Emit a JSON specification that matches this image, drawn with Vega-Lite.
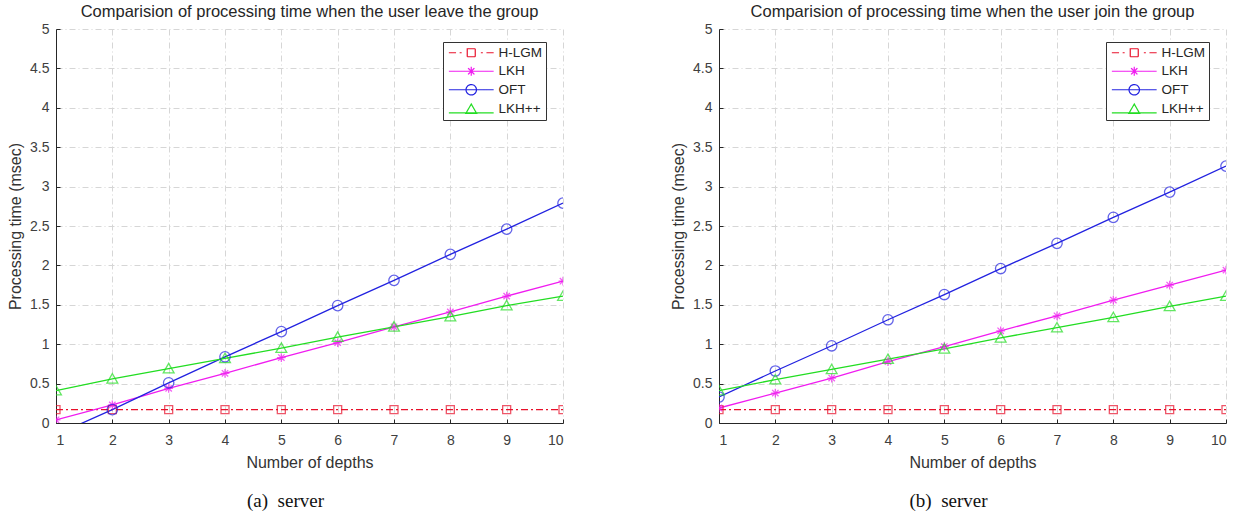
{
  "$schema": "https://vega.github.io/schema/vega-lite/v6.json",
  "padding": {"left": 7, "top": 4, "right": 3, "bottom": 2},
  "background": "white",
  "spacing": 106,
  "config": {
    "font": "Liberation Sans",
    "view": {"stroke": null},
    "title": {"font": "Liberation Sans", "fontSize": 16.5, "fontWeight": "normal", "color": "#262626", "offset": 1.5},
    "axis": {
      "labelFont": "Liberation Sans", "labelFontSize": 14, "labelColor": "#404040",
      "titleFont": "Liberation Sans", "titleFontSize": 16, "titleFontWeight": "normal", "titleColor": "#333333",
      "domainColor": "#262626", "tickColor": "#262626", "tickSize": -4,
      "gridColor": "#d6d6d6", "gridDash": [6, 3, 1, 3], "gridWidth": 1
    },
    "legend": {
      "labelFont": "Liberation Sans", "labelFontSize": 13.5, "labelColor": "#262626",
      "strokeColor": "#333333", "fillColor": "white", "padding": 4, "rowPadding": 3.5,
      "symbolStrokeWidth": 1.2, "symbolSize": 64, "symbolOffset": 17.5, "labelOffset": 20.5
    }
  },
  "datasets": {
    "leave": [
      {"depth": 1, "series": "H-LGM", "value": 0.17}, {"depth": 2, "series": "H-LGM", "value": 0.17}, {"depth": 3, "series": "H-LGM", "value": 0.17}, {"depth": 4, "series": "H-LGM", "value": 0.17}, {"depth": 5, "series": "H-LGM", "value": 0.17}, {"depth": 6, "series": "H-LGM", "value": 0.17}, {"depth": 7, "series": "H-LGM", "value": 0.17}, {"depth": 8, "series": "H-LGM", "value": 0.17}, {"depth": 9, "series": "H-LGM", "value": 0.17}, {"depth": 10, "series": "H-LGM", "value": 0.17},
      {"depth": 1, "series": "LKH", "value": 0.04}, {"depth": 2, "series": "LKH", "value": 0.23}, {"depth": 3, "series": "LKH", "value": 0.44}, {"depth": 4, "series": "LKH", "value": 0.63}, {"depth": 5, "series": "LKH", "value": 0.83}, {"depth": 6, "series": "LKH", "value": 1.02}, {"depth": 7, "series": "LKH", "value": 1.22}, {"depth": 8, "series": "LKH", "value": 1.41}, {"depth": 9, "series": "LKH", "value": 1.61}, {"depth": 10, "series": "LKH", "value": 1.8},
      {"depth": 1, "series": "OFT", "value": -0.15}, {"depth": 2, "series": "OFT", "value": 0.17}, {"depth": 3, "series": "OFT", "value": 0.51}, {"depth": 4, "series": "OFT", "value": 0.84}, {"depth": 5, "series": "OFT", "value": 1.16}, {"depth": 6, "series": "OFT", "value": 1.49}, {"depth": 7, "series": "OFT", "value": 1.81}, {"depth": 8, "series": "OFT", "value": 2.14}, {"depth": 9, "series": "OFT", "value": 2.46}, {"depth": 10, "series": "OFT", "value": 2.79},
      {"depth": 1, "series": "LKH++", "value": 0.41}, {"depth": 2, "series": "LKH++", "value": 0.56}, {"depth": 3, "series": "LKH++", "value": 0.69}, {"depth": 4, "series": "LKH++", "value": 0.82}, {"depth": 5, "series": "LKH++", "value": 0.95}, {"depth": 6, "series": "LKH++", "value": 1.09}, {"depth": 7, "series": "LKH++", "value": 1.22}, {"depth": 8, "series": "LKH++", "value": 1.35}, {"depth": 9, "series": "LKH++", "value": 1.49}, {"depth": 10, "series": "LKH++", "value": 1.61}
    ],
    "join": [
      {"depth": 1, "series": "H-LGM", "value": 0.17}, {"depth": 2, "series": "H-LGM", "value": 0.17}, {"depth": 3, "series": "H-LGM", "value": 0.17}, {"depth": 4, "series": "H-LGM", "value": 0.17}, {"depth": 5, "series": "H-LGM", "value": 0.17}, {"depth": 6, "series": "H-LGM", "value": 0.17}, {"depth": 7, "series": "H-LGM", "value": 0.17}, {"depth": 8, "series": "H-LGM", "value": 0.17}, {"depth": 9, "series": "H-LGM", "value": 0.17}, {"depth": 10, "series": "H-LGM", "value": 0.17},
      {"depth": 1, "series": "LKH", "value": 0.19}, {"depth": 2, "series": "LKH", "value": 0.38}, {"depth": 3, "series": "LKH", "value": 0.57}, {"depth": 4, "series": "LKH", "value": 0.78}, {"depth": 5, "series": "LKH", "value": 0.97}, {"depth": 6, "series": "LKH", "value": 1.17}, {"depth": 7, "series": "LKH", "value": 1.36}, {"depth": 8, "series": "LKH", "value": 1.56}, {"depth": 9, "series": "LKH", "value": 1.75}, {"depth": 10, "series": "LKH", "value": 1.94},
      {"depth": 1, "series": "OFT", "value": 0.33}, {"depth": 2, "series": "OFT", "value": 0.66}, {"depth": 3, "series": "OFT", "value": 0.98}, {"depth": 4, "series": "OFT", "value": 1.31}, {"depth": 5, "series": "OFT", "value": 1.63}, {"depth": 6, "series": "OFT", "value": 1.96}, {"depth": 7, "series": "OFT", "value": 2.28}, {"depth": 8, "series": "OFT", "value": 2.61}, {"depth": 9, "series": "OFT", "value": 2.93}, {"depth": 10, "series": "OFT", "value": 3.26},
      {"depth": 1, "series": "LKH++", "value": 0.41}, {"depth": 2, "series": "LKH++", "value": 0.55}, {"depth": 3, "series": "LKH++", "value": 0.68}, {"depth": 4, "series": "LKH++", "value": 0.81}, {"depth": 5, "series": "LKH++", "value": 0.94}, {"depth": 6, "series": "LKH++", "value": 1.08}, {"depth": 7, "series": "LKH++", "value": 1.21}, {"depth": 8, "series": "LKH++", "value": 1.34}, {"depth": 9, "series": "LKH++", "value": 1.48}, {"depth": 10, "series": "LKH++", "value": 1.61}
    ]
  },
  "hconcat": [
    {
      "title": {"text": "(a)\u00a0 server", "orient": "bottom", "anchor": "middle", "font": "Liberation Serif", "fontSize": 19, "fontWeight": "normal", "color": "#111111", "offset": 22},
      "vconcat": [
        {
          "width": 507, "height": 394,
          "title": "Comparision of processing time when the user leave the group",
          "data": {"name": "leave"},
          "encoding": {
            "x": {"field": "depth", "type": "quantitative", "scale": {"domain": [1, 10], "nice": false}, "axis": {"values": [1, 2, 3, 4, 5, 6, 7, 8, 9, 10], "title": "Number of depths", "labelPadding": 14, "titlePadding": 7}},
            "y": {"field": "value", "type": "quantitative", "scale": {"domain": [0, 5], "nice": false}, "axis": {"values": [0, 0.5, 1, 1.5, 2, 2.5, 3, 3.5, 4, 4.5, 5], "format": "~g", "title": "Processing time (msec)", "labelPadding": 11, "titlePadding": 6}},
            "color": {"field": "series", "type": "nominal", "scale": {"domain": ["H-LGM", "LKH", "OFT", "LKH++"], "range": ["#e8102a", "#f01cf0", "#2222e0", "#22dd22"]},
              "legend": {"title": null, "orient": "none", "legendX": 387, "legendY": 13,
                "encode": {"symbols": {"update": {"fill": {"value": "transparent"}, "strokeDash": {"value": [1, 0]}, "shape": {"signal": "datum.value === 'H-LGM' ? 'M-5.6,0L-3.8,0M-2.9,0L-2.4,0M-1,-1L1,-1L1,1L-1,1ZM2.4,0L2.9,0M3.8,0L5.6,0' : datum.value === 'LKH' ? 'M-5.6,0L5.6,0M-1.1,0L1.1,0M0,-1.1L0,1.1M-0.8,-0.8L0.8,0.8M-0.8,0.8L0.8,-0.8' : datum.value === 'OFT' ? 'M-5.6,0L5.6,0M-1.3,0A1.3,1.3 0 1,0 1.3,0A1.3,1.3 0 1,0 -1.3,0Z' : 'M-5.6,0.9L5.6,0.9M0,-1.3L1.35,1.05L-1.35,1.05Z'"}}}}}
            }
          },
          "layer": [
            {"transform": [{"filter": "datum.series === 'H-LGM'"}], "mark": {"type": "line", "clip": true, "strokeWidth": 1.4, "strokeDash": [7, 3, 2, 3]}},
            {"transform": [{"filter": "datum.series !== 'H-LGM'"}], "mark": {"type": "line", "clip": true, "strokeWidth": 1.3}},
            {"transform": [{"filter": "datum.series === 'H-LGM'"}], "mark": {"type": "point", "clip": true, "filled": false, "size": 64, "strokeWidth": 1.3, "shape": "M-1,-1L1,-1L1,1L-1,1Z"}},
            {"transform": [{"filter": "datum.series === 'LKH'"}], "mark": {"type": "point", "clip": true, "filled": false, "size": 64, "strokeWidth": 1.3, "shape": "M-1.1,0L1.1,0M0,-1.1L0,1.1M-0.8,-0.8L0.8,0.8M-0.8,0.8L0.8,-0.8"}},
            {"transform": [{"filter": "datum.series === 'OFT'"}], "mark": {"type": "point", "clip": true, "filled": false, "size": 64, "strokeWidth": 1.3, "shape": "M-1.3,0A1.3,1.3 0 1,0 1.3,0A1.3,1.3 0 1,0 -1.3,0Z"}},
            {"transform": [{"filter": "datum.series === 'LKH++'"}], "mark": {"type": "point", "clip": true, "filled": false, "size": 64, "strokeWidth": 1.3, "shape": "M0,-1.3L1.35,1.05L-1.35,1.05Z"}}
          ]
        }
      ]
    },
    {
      "title": {"text": "(b)\u00a0 server", "orient": "bottom", "anchor": "middle", "font": "Liberation Serif", "fontSize": 19, "fontWeight": "normal", "color": "#111111", "offset": 22},
      "vconcat": [
        {
          "width": 507, "height": 394,
          "title": "Comparision of processing time when the user join the group",
          "data": {"name": "join"},
          "encoding": {
            "x": {"field": "depth", "type": "quantitative", "scale": {"domain": [1, 10], "nice": false}, "axis": {"values": [1, 2, 3, 4, 5, 6, 7, 8, 9, 10], "title": "Number of depths", "labelPadding": 14, "titlePadding": 7}},
            "y": {"field": "value", "type": "quantitative", "scale": {"domain": [0, 5], "nice": false}, "axis": {"values": [0, 0.5, 1, 1.5, 2, 2.5, 3, 3.5, 4, 4.5, 5], "format": "~g", "title": "Processing time (msec)", "labelPadding": 11, "titlePadding": 6}},
            "color": {"field": "series", "type": "nominal", "scale": {"domain": ["H-LGM", "LKH", "OFT", "LKH++"], "range": ["#e8102a", "#f01cf0", "#2222e0", "#22dd22"]},
              "legend": {"title": null, "orient": "none", "legendX": 387, "legendY": 13,
                "encode": {"symbols": {"update": {"fill": {"value": "transparent"}, "strokeDash": {"value": [1, 0]}, "shape": {"signal": "datum.value === 'H-LGM' ? 'M-5.6,0L-3.8,0M-2.9,0L-2.4,0M-1,-1L1,-1L1,1L-1,1ZM2.4,0L2.9,0M3.8,0L5.6,0' : datum.value === 'LKH' ? 'M-5.6,0L5.6,0M-1.1,0L1.1,0M0,-1.1L0,1.1M-0.8,-0.8L0.8,0.8M-0.8,0.8L0.8,-0.8' : datum.value === 'OFT' ? 'M-5.6,0L5.6,0M-1.3,0A1.3,1.3 0 1,0 1.3,0A1.3,1.3 0 1,0 -1.3,0Z' : 'M-5.6,0.9L5.6,0.9M0,-1.3L1.35,1.05L-1.35,1.05Z'"}}}}}
            }
          },
          "layer": [
            {"transform": [{"filter": "datum.series === 'H-LGM'"}], "mark": {"type": "line", "clip": true, "strokeWidth": 1.4, "strokeDash": [7, 3, 2, 3]}},
            {"transform": [{"filter": "datum.series !== 'H-LGM'"}], "mark": {"type": "line", "clip": true, "strokeWidth": 1.3}},
            {"transform": [{"filter": "datum.series === 'H-LGM'"}], "mark": {"type": "point", "clip": true, "filled": false, "size": 64, "strokeWidth": 1.3, "shape": "M-1,-1L1,-1L1,1L-1,1Z"}},
            {"transform": [{"filter": "datum.series === 'LKH'"}], "mark": {"type": "point", "clip": true, "filled": false, "size": 64, "strokeWidth": 1.3, "shape": "M-1.1,0L1.1,0M0,-1.1L0,1.1M-0.8,-0.8L0.8,0.8M-0.8,0.8L0.8,-0.8"}},
            {"transform": [{"filter": "datum.series === 'OFT'"}], "mark": {"type": "point", "clip": true, "filled": false, "size": 64, "strokeWidth": 1.3, "shape": "M-1.3,0A1.3,1.3 0 1,0 1.3,0A1.3,1.3 0 1,0 -1.3,0Z"}},
            {"transform": [{"filter": "datum.series === 'LKH++'"}], "mark": {"type": "point", "clip": true, "filled": false, "size": 64, "strokeWidth": 1.3, "shape": "M0,-1.3L1.35,1.05L-1.35,1.05Z"}}
          ]
        }
      ]
    }
  ],
  "resolve": {"scale": {"color": "independent"}}
}
